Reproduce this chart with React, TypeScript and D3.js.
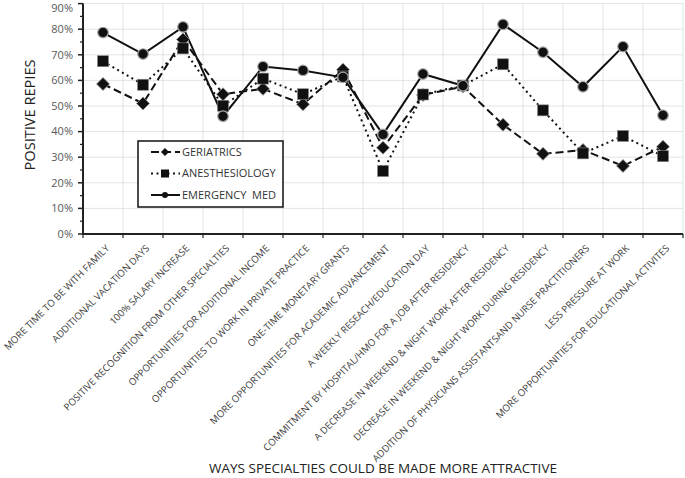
import React from "react";
import * as d3 from "d3";

const categories = [
  "MORE TIME TO BE WITH FAMILY",
  "ADDITIONAL VACATION DAYS",
  "100% SALARY INCREASE",
  "POSITIVE RECOGNITION FROM OTHER SPECIALTIES",
  "OPPORTUNITIES FOR ADDITIONAL INCOME",
  "OPPORTUNITIES TO WORK IN PRIVATE PRACTICE",
  "ONE-TIME MONETARY GRANTS",
  "MORE OPPORTUNITIES FOR ACADEMIC ADVANCEMENT",
  "A WEEKLY RESEACH/EDUCATION DAY",
  "COMMITMENT BY HOSPITAL/HMO FOR A JOB AFTER RESIDENCY",
  "A DECREASE IN WEEKEND & NIGHT WORK AFTER RESIDENCY",
  "DECREASE IN WEEKEND & NIGHT WORK DURING RESIDENCY",
  "ADDITION OF PHYSICIANS ASSISTANTSAND NURSE PRACTITIONERS",
  "LESS PRESSURE AT WORK",
  "MORE OPPORTUNITIES FOR EDUCATIONAL ACTIVITES",
];

const geriatrics = [0.586, 0.51, 0.76, 0.546, 0.567, 0.507, 0.642, 0.337, 0.543, 0.576, 0.427, 0.313, 0.328, 0.266, 0.341];
const anesthesiology = [0.675, 0.583, 0.725, 0.501, 0.607, 0.546, 0.615, 0.246, 0.545, 0.58, 0.663, 0.483, 0.315, 0.383, 0.304];
const emergency = [0.787, 0.703, 0.809, 0.46, 0.654, 0.639, 0.612, 0.389, 0.625, 0.579, 0.819, 0.71, 0.575, 0.732, 0.464];

const yTicks = [0, 0.1, 0.2, 0.3, 0.4, 0.5, 0.6, 0.7, 0.8, 0.9];
const yMinorTicks = [0.05, 0.15, 0.25, 0.35, 0.45, 0.55, 0.65, 0.75, 0.85];

const seriesNames = ["GERIATRICS", "ANESTHESIOLOGY", "EMERGENCY  MED"];

const W = 685;
const H = 478;
const left = 83;
const right = 683;
const top = 3.6;
const bottom = 234;

const FONT = "'Open Sans', 'Liberation Sans', sans-serif";

type Kind = "diamond" | "square" | "circle";

function Marker({ kind, x, y }: { kind: Kind; x: number; y: number }) {
  if (kind === "diamond") {
    const s = 6.5;
    return (
      <path
        d={`M${x},${y - s}L${x + s},${y}L${x},${y + s}L${x - s},${y}Z`}
        fill="#111"
        stroke="#999"
        strokeWidth={0.8}
      />
    );
  }
  if (kind === "square") {
    const s = 5.5;
    return <rect x={x - s} y={y - s} width={2 * s} height={2 * s} fill="#111" stroke="#888" strokeWidth={0.6} />;
  }
  return <circle cx={x} cy={y} r={5.3} fill="#111" stroke="#aaa" strokeWidth={1.2} />;
}

export default function App() {
  const x = d3.scaleBand<string>().domain(categories).range([left, right]).padding(0);
  const y = d3.scaleLinear().domain([0, 0.9]).range([bottom, top]);
  const cx = (c: string) => (x(c) as number) + x.bandwidth() / 2;

  const line = d3
    .line<number>()
    .x((_, i) => cx(categories[i]))
    .y((d) => y(d));

  const series = [
    { name: seriesNames[0], values: geriatrics, dash: "8,4", kind: "diamond" as Kind },
    { name: seriesNames[1], values: anesthesiology, dash: "2,3.5", kind: "square" as Kind },
    { name: seriesNames[2], values: emergency, dash: "", kind: "circle" as Kind },
  ];

  const boundaries = categories.map((c) => x(c) as number).concat([right]);

  return (
    <svg
      width={W}
      height={H}
      style={{ position: "absolute", left: 0, top: 0, background: "#fff" }}
      fontFamily={FONT}
    >
      {/* gridlines */}
      {yTicks.map((t) => (
        <line key={"hg" + t} x1={left} x2={right} y1={y(t)} y2={y(t)} stroke="#e3e3e3" strokeWidth={1} />
      ))}
      {boundaries.slice(1).map((b, i) => (
        <line key={"vg" + i} x1={b} x2={b} y1={top} y2={bottom} stroke="#e3e3e3" strokeWidth={1} />
      ))}

      {/* y axis */}
      <line x1={left} x2={left} y1={top} y2={bottom} stroke="#222" strokeWidth={2} />
      {yTicks.map((t) => (
        <g key={"yt" + t}>
          <line x1={left - 5} x2={left} y1={y(t)} y2={y(t)} stroke="#222" strokeWidth={1.5} />
          <text x={left - 10} y={Math.max(y(t), 8)} dy="0.35em" textAnchor="end" fontSize={11} fill="#595959">
            {d3.format(".0%")(t)}
          </text>
        </g>
      ))}
      {yMinorTicks.map((t) => (
        <line key={"ym" + t} x1={left - 3} x2={left} y1={y(t)} y2={y(t)} stroke="#222" strokeWidth={1.2} />
      ))}

      {/* x axis */}
      <line x1={left} x2={right} y1={bottom} y2={bottom} stroke="#222" strokeWidth={2} />
      {boundaries.map((b, i) => (
        <line key={"xt" + i} x1={b} x2={b} y1={bottom} y2={bottom + 4} stroke="#222" strokeWidth={1.2} />
      ))}
      {categories.map((c) => (
        <text
          key={"xl" + c}
          transform={`translate(${cx(c) + 7},${bottom + 15}) rotate(-45)`}
          textAnchor="end"
          fontSize={9.7}
          fill="#404040"
        >
          {c}
        </text>
      ))}

      {/* lines */}
      {series.map((s) => (
        <path
          key={"l" + s.name}
          d={line(s.values) as string}
          fill="none"
          stroke="#111"
          strokeWidth={2}
          strokeDasharray={s.dash || undefined}
        />
      ))}
      {series.map((s) =>
        s.values.map((v, i) => <Marker key={s.name + i} kind={s.kind} x={cx(categories[i])} y={y(v)} />)
      )}

      {/* legend */}
      <rect x={138} y={141} width={145} height={66} fill="#fff" stroke="#111" strokeWidth={1.5} />
      {series.map((s, i) => {
        const ly = 152 + i * 21.5;
        return (
          <g key={"lg" + s.name}>
            <line x1={151} x2={180} y1={ly} y2={ly} stroke="#111" strokeWidth={2} strokeDasharray={s.dash || undefined} />
            {s.kind === "diamond" ? (
              <path d={`M165,${ly - 4}L169,${ly}L165,${ly + 4}L161,${ly}Z`} fill="#111" />
            ) : s.kind === "square" ? (
              <rect x={161} y={ly - 4} width={8} height={8} fill="#111" />
            ) : (
              <circle cx={165} cy={ly} r={3} fill="#111" />
            )}
            <text x={182} y={ly} dy="0.35em" fontSize={11} fill="#333">
              {s.name.replace("  ", "\u00a0\u00a0")}
            </text>
          </g>
        );
      })}

      {/* axis titles */}
      <text
        transform={`translate(35,115) rotate(-90)`}
        textAnchor="middle"
        fontSize={14.6}
        fill="#222"
      >
        POSITIVE REPIES
      </text>
      <text x={383} y={473} textAnchor="middle" fontSize={13.5} fill="#222">
        WAYS SPECIALTIES COULD BE MADE MORE ATTRACTIVE
      </text>
    </svg>
  );
}
